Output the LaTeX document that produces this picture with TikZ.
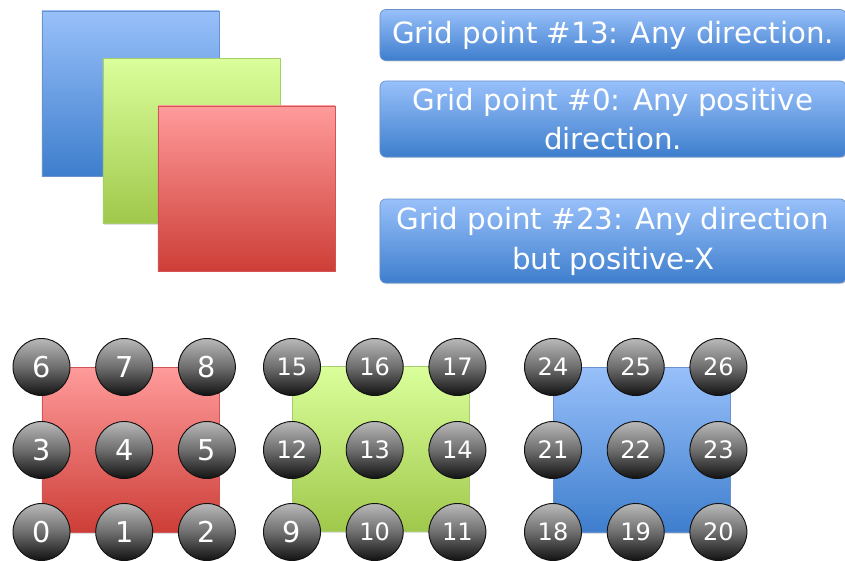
\documentclass[tikz,border=0pt]{standalone}
\usepackage{fontspec}
\setmainfont{DejaVu Sans}
\usetikzlibrary{shadows}
\definecolor{blueTop}{RGB}{152,192,250}
\definecolor{blueBot}{RGB}{62,126,205}
\definecolor{blueLine}{RGB}{105,145,205}
\definecolor{greenTop}{RGB}{218,255,155}
\definecolor{greenBot}{RGB}{160,200,75}
\definecolor{greenLine}{RGB}{165,205,110}
\definecolor{redTop}{RGB}{255,155,155}
\definecolor{redBot}{RGB}{205,62,55}
\definecolor{redLine}{RGB}{210,85,85}
\definecolor{ballTop}{RGB}{185,185,185}
\definecolor{ballMid}{RGB}{110,110,110}
\definecolor{ballBot}{RGB}{18,18,18}
\begin{document}
\begin{tikzpicture}[x=0.03cm, y=-0.03cm,
  tile/.style={rectangle, minimum width=5.31cm, minimum height=4.95cm, inner sep=0pt,
    line width=0.6pt, drop shadow={shadow xshift=1pt, shadow yshift=-1.2pt, opacity=0.25}},
  redtile/.style={tile, draw=redLine, top color=redTop, bottom color=redBot},
  greentile/.style={tile, draw=greenLine, top color=greenTop, bottom color=greenBot},
  bluetile/.style={tile, draw=blueLine, top color=blueTop, bottom color=blueBot},
  note/.style={rectangle, rounded corners=5pt, draw=blueLine, line width=0.6pt,
    top color=blueTop, bottom color=blueBot, text=white, align=center,
    minimum width=13.98cm, inner sep=0pt, font=\fontsize{25}{34}\selectfont,
    drop shadow={shadow xshift=0.8pt, shadow yshift=-1pt, opacity=0.25}},
  ball/.style={circle, minimum size=1.71cm, inner sep=0pt, draw=ballBot, line width=0.8pt,
    top color=ballTop, bottom color=ballBot, middle color=ballMid, text=white}]
\useasboundingbox (0,0) rectangle (845,560);
% stacked planes
\node[bluetile] (planeB) at (130.5,93.5) {};
\node[greentile] (planeG) at (191.5,141) {};
\node[redtile] (planeR) at (246.5,188.5) {};
% notes
\node[note, minimum height=1.53cm] (note13) at (613,35) {Grid point \#13: Any direction.};
\node[note, minimum height=2.28cm] (note0) at (613,119) {Grid point \#0: Any positive\\direction.};
\node[note, minimum height=2.52cm] (note23) at (613,241) {Grid point \#23: Any direction\\but positive-X};
% grids
\node[redtile] (gridR) at (130.5,450) {};
\node[greentile] (gridG) at (380.5,449) {};
\node[bluetile] (gridB) at (641.5,450) {};
\foreach \xo/\base in {41.5/0, 292/9, 553/18} {
  \foreach \r/\yy in {0/532, 1/450, 2/367} {
    \foreach \c in {0,1,2} {
      \pgfmathtruncatemacro{\n}{\base+3*\r+\c}
      \node[ball] (pt\n) at (\xo+82.7*\c,\yy)
        {\ifnum\n<10 \fontsize{24.5}{24}\selectfont\else\fontsize{20.5}{20}\selectfont\fi\n};
    }
  }
}
\end{tikzpicture}
\end{document}
